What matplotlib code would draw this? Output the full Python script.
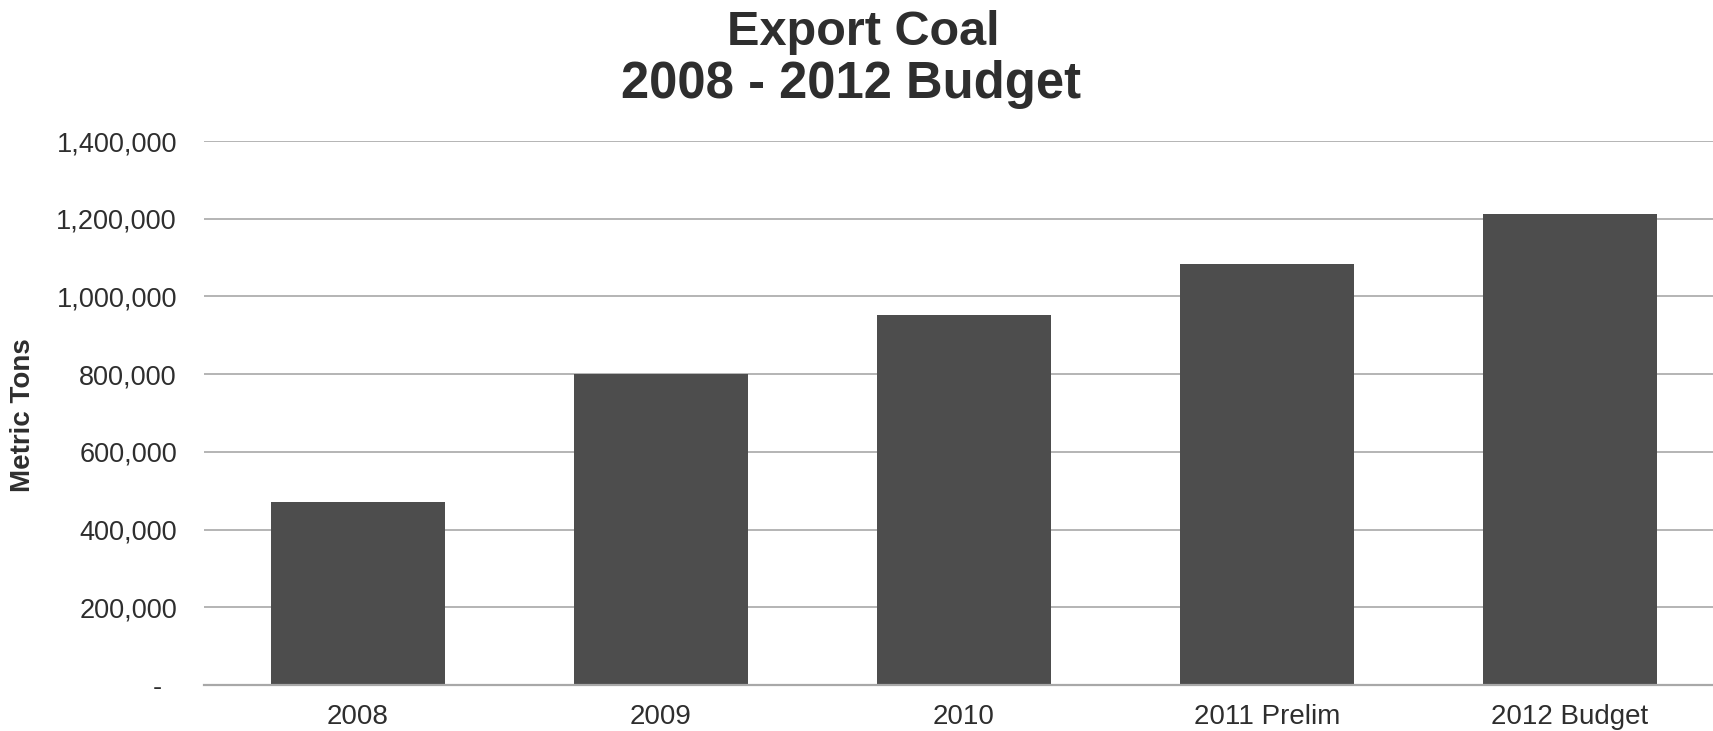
import matplotlib
matplotlib.use("Agg")
import matplotlib.pyplot as plt
from matplotlib.ticker import FixedLocator

categories = ["2008", "2009", "2010", "2011 Prelim", "2012 Budget"]
export_tons = [472000, 800000, 953000, 1084000, 1211000]
y_ticks = [0, 200000, 400000, 600000, 800000, 1000000, 1200000, 1400000]
y_tick_labels = ["-  ", "200,000", "400,000", "600,000", "800,000",
                 "1,000,000", "1,200,000", "1,400,000"]
title_lines = ["Export Coal", "2008 - 2012 Budget"]
y_label = "Metric Tons"

plt.rcParams['font.family'] = ['Liberation Sans', 'DejaVu Sans']
text_color = "#2e2e2e"

fig = plt.figure(figsize=(17.13, 7.31), dpi=100)
fig.patch.set_facecolor("white")
ax = fig.add_axes([0.1191, 0.0629, 0.8809, 0.7442])

x = list(range(len(categories)))
ax.bar(x, export_tons, width=0.577, color="#4d4d4d", zorder=3)

ax.set_ylim(0, 1400000)
ax.set_xlim(-0.508, 4.472)
ax.yaxis.set_major_locator(FixedLocator(y_ticks))
ax.set_yticklabels(y_tick_labels)
ax.set_xticks(x)
ax.set_xticklabels(categories)

ax.grid(axis="y", color="#b4b4b4", linewidth=1.4, zorder=0)
ax.set_axisbelow(True)
for s in ["top", "right", "left"]:
    ax.spines[s].set_visible(False)
ax.spines["bottom"].set_color("#a8a8a8")
ax.spines["bottom"].set_linewidth(1.6)
ax.spines["bottom"].set_zorder(4)

ax.tick_params(axis="y", length=0, pad=19.5, labelsize=19.5, labelcolor=text_color)
ax.tick_params(axis="x", length=0, pad=14, labelsize=20, labelcolor=text_color)

fig.text(0.0135, 0.432, y_label, rotation=90, ha="center", va="center",
         fontsize=20, fontweight="bold", color=text_color)

fig.text(0.504, 0.955, title_lines[0], ha="center", va="center",
         fontsize=35, fontweight="bold", color=text_color)
fig.text(0.497, 0.884, title_lines[1], ha="center", va="center",
         fontsize=36.5, fontweight="bold", color=text_color)

fig.savefig("out.png", dpi=100, facecolor="white")
